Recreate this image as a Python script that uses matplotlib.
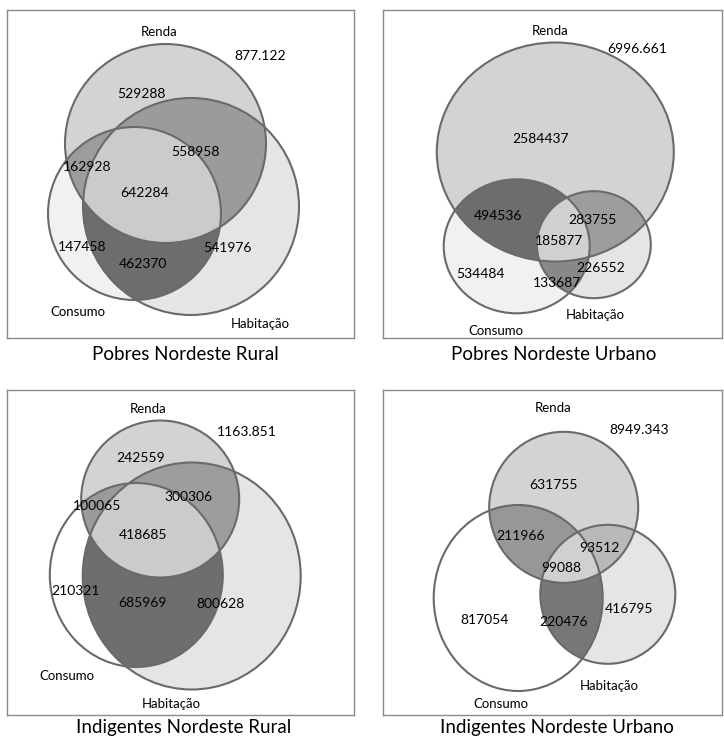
import numpy as np
import matplotlib
matplotlib.use("Agg")
import matplotlib.pyplot as plt
from matplotlib.patches import Polygon, Ellipse

plt.rcParams['font.family'] = ['Lato', 'DejaVu Sans']

# ---------------- data ----------------
titles = ["Pobres Nordeste Rural", "Pobres Nordeste Urbano",
          "Indigentes Nordeste Rural", "Indigentes Nordeste Urbano"]
set_names = ["Renda", "Consumo", "Habitação"]
totals = ["877.122", "6996.661", "1163.851", "8949.343"]
renda_only = [529288, 2584437, 242559, 631755]
consumo_only = [147458, 534484, 210321, 817054]
habitacao_only = [541976, 226552, 800628, 416795]
renda_consumo = [162928, 494536, 100065, 211966]
renda_habitacao = [558958, 283755, 300306, 93512]
consumo_habitacao = [462370, 133687, 685969, 220476]
all_three = [642284, 185877, 418685, 99088]

# ---------------- layout (pixel coordinates of the figure) ----------------
W, H = 724, 743
boxes = [(7, 10, 354, 338), (383, 10, 722, 338),
         (7, 390, 354, 715), (383, 390, 722, 715)]
title_xy = [(185, 354), (554, 354), (184, 728), (557, 728)]

# ellipses: (cx, cy, width, height) for Renda, Consumo, Habitação
shapes = [
    [(165.5, 143.5, 201, 199), (134.5, 213.5, 173, 173), (191, 206.5, 216, 217)],
    [(555.3, 152, 237, 219), (516.7, 246.3, 146, 134), (593.8, 244.7, 114, 107)],
    [(160.2, 499, 158, 157), (136.3, 575, 173, 184), (191.7, 576, 218, 227)],
    [(563.7, 507.3, 149, 151), (518.2, 598, 169, 186), (607.8, 594.3, 135, 139)],
]

# label positions
pos_names = [
    [(159, 32), (78, 312), (260, 324)],
    [(550, 31), (496, 331), (595, 315)],
    [(148, 409), (67, 676), (171, 704)],
    [(553, 408), (501, 704), (609, 686)],
]
pos_total = [(260, 56), (637, 49), (247, 432), (639, 430)]
# order: R, C, H, RC, RH, CH, RCH
pos_vals = [
    [(141, 94), (82, 247), (227, 248), (87, 167), (195, 152), (143, 264), (145, 193)],
    [(541, 139), (480, 274), (601, 268), (498, 216), (592, 220), (557, 283), (559, 241)],
    [(141, 458), (76, 591), (221, 604), (97, 506), (188, 497), (142, 603), (143, 535)],
    [(553, 485), (485, 620), (629, 609), (521, 536), (599, 548), (564, 622), (561, 568)],
]

# colours: R, C, H, RC, RH, CH, RCH
colors = [
    ["#d3d3d5", "#f1f1f1", "#e5e5e7", "#9c9c9e", "#9b9b9d", "#6d6d6f", "#cbcbcd"],
    ["#d3d3d5", "#f1f1f1", "#e5e5e7", "#6d6d6f", "#9d9d9f", "#88888a", "#d0d0d2"],
    ["#d3d3d5", "#ffffff", "#e5e5e7", "#9a9a9c", "#9d9d9f", "#6e6e70", "#cbcbcd"],
    ["#d3d3d5", "#ffffff", "#e5e5e7", "#979799", "#b9b9bb", "#77777a", "#d0d0d2"],
]
edge_color = "#6a6a6a"


def ellipse_poly(cx, cy, w, h, n=720):
    t = np.linspace(0, 2 * np.pi, n, endpoint=False)
    return np.column_stack([cx + w / 2 * np.cos(t), cy + h / 2 * np.sin(t)])


def clip_poly(subject, clipper):
    """Sutherland-Hodgman clipping of polygon subject by convex clipper (ccw)."""
    out = list(map(tuple, subject))
    m = len(clipper)
    for i in range(m):
        a = clipper[i]
        b = clipper[(i + 1) % m]

        def inside(p):
            return (b[0] - a[0]) * (p[1] - a[1]) - (b[1] - a[1]) * (p[0] - a[0]) >= 0

        def inter(p, q):
            x1, y1 = p; x2, y2 = q; x3, y3 = a; x4, y4 = b
            den = (x1 - x2) * (y3 - y4) - (y1 - y2) * (x3 - x4)
            if den == 0:
                return q
            tt = ((x1 - x3) * (y3 - y4) - (y1 - y3) * (x3 - x4)) / den
            return (x1 + tt * (x2 - x1), y1 + tt * (y2 - y1))

        inp = out
        out = []
        if not inp:
            break
        s = inp[-1]
        for e in inp:
            if inside(e):
                if not inside(s):
                    out.append(inter(s, e))
                out.append(e)
            elif inside(s):
                out.append(inter(s, e))
            s = e
    return np.array(out)


fig = plt.figure(figsize=(W / 100, H / 100), dpi=100)

for k in range(4):
    x0, y0, x1, y1 = boxes[k]
    ax = fig.add_axes([x0 / W, 1 - y1 / H, (x1 - x0) / W, (y1 - y0) / H])
    ax.set_xlim(x0, x1)
    ax.set_ylim(y0, y1)
    ax.set_xticks([]); ax.set_yticks([])
    for sp in ax.spines.values():
        sp.set_color("#8a8a8a")
        sp.set_linewidth(1.0)

    polys = [ellipse_poly(*s) for s in shapes[k]]
    R, C, Hb = polys
    col = colors[k]
    # single sets
    for p, c in zip(polys, col[:3]):
        ax.add_patch(Polygon(p, closed=True, facecolor=c, edgecolor="none"))
    # pairwise intersections
    rc = clip_poly(R, C)
    rh = clip_poly(R, Hb)
    ch = clip_poly(C, Hb)
    for p, c in zip([rc, rh, ch], col[3:6]):
        if len(p):
            ax.add_patch(Polygon(p, closed=True, facecolor=c, edgecolor="none"))
    rch = clip_poly(rc, Hb)
    if len(rch):
        ax.add_patch(Polygon(rch, closed=True, facecolor=col[6], edgecolor="none"))
    # outlines
    for s in shapes[k]:
        ax.add_patch(Ellipse((s[0], s[1]), s[2], s[3], facecolor="none",
                             edgecolor=edge_color, linewidth=1.5))
    ax.invert_yaxis()

    # texts
    for name, (tx, ty) in zip(set_names, pos_names[k]):
        ax.text(tx, ty, name, ha="center", va="center", fontsize=9.5, color="black")
    ax.text(*pos_total[k], totals[k], ha="center", va="center", fontsize=10, color="black")
    vals = [renda_only[k], consumo_only[k], habitacao_only[k], renda_consumo[k],
            renda_habitacao[k], consumo_habitacao[k], all_three[k]]
    for v, (tx, ty) in zip(vals, pos_vals[k]):
        ax.text(tx, ty, str(v), ha="center", va="center", fontsize=10, color="black")
    ax.text(*title_xy[k], titles[k], ha="center", va="center", fontsize=13.5,
            color="black", clip_on=False)

fig.savefig("out.png", dpi=100)
